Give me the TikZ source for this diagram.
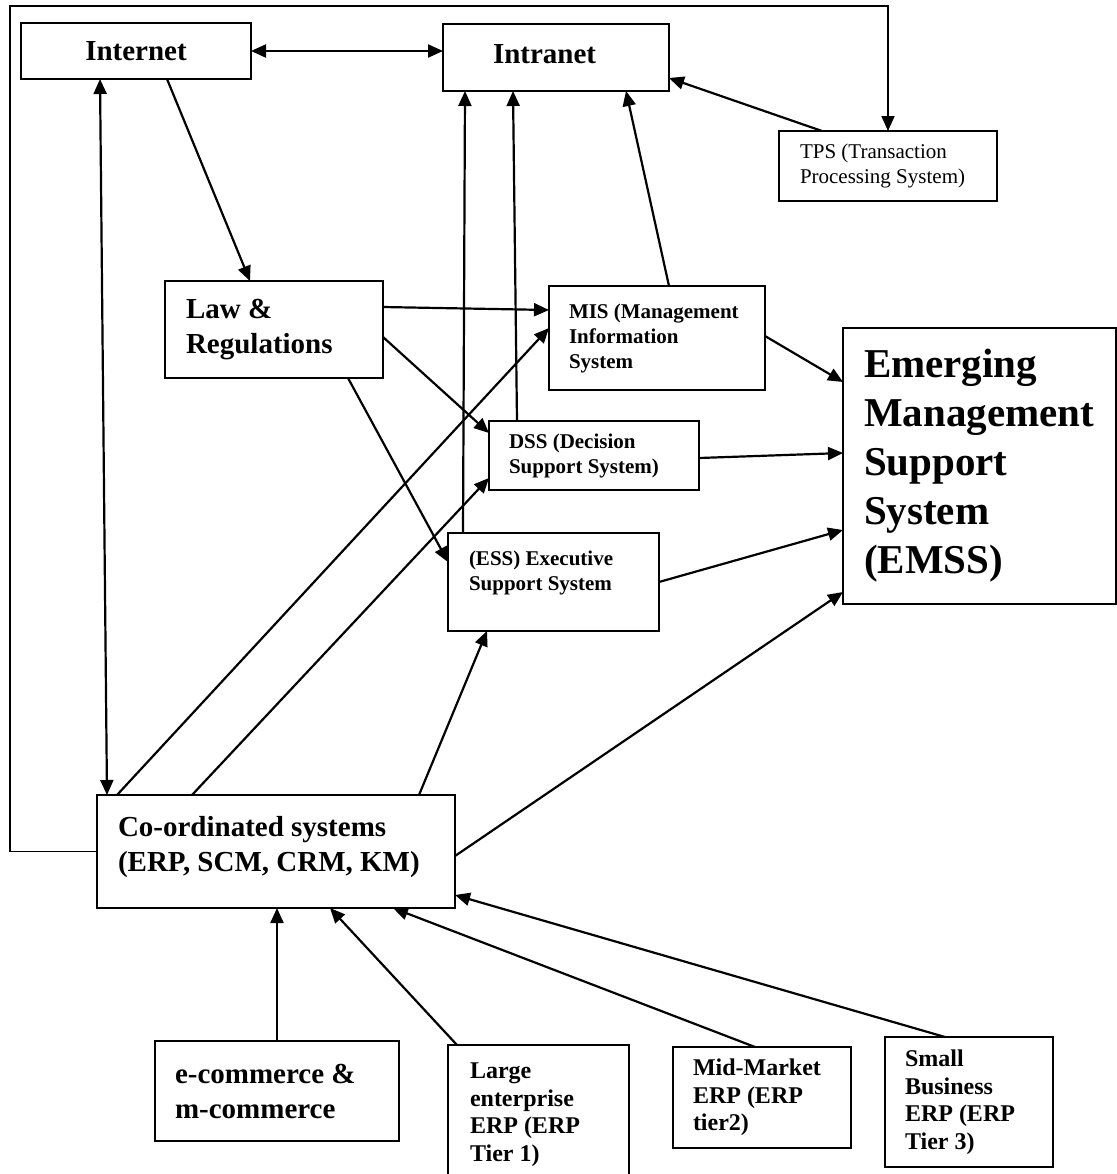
\documentclass[tikz,border=0pt]{standalone}
\usepackage{fontspec}
\setmainfont{Liberation Serif}
\usetikzlibrary{arrows.meta}
\def\botpad#1{\rule[-#1]{0pt}{#1}}

\begin{document}
\begin{tikzpicture}[>={Triangle[length=7.5pt,width=6.5pt]},x=0.5pt,y=-0.5pt,line width=1.1pt,
	box/.style={draw=black,line width=1pt,outer sep=0pt,inner ysep=0pt,anchor=north west,align=flush left},
	bigbold/.style={font=\bfseries\fontsize{14.5}{17.5}\selectfont},
	midbold/.style={font=\bfseries\fontsize{12}{13.75}\selectfont},
	smallbold/.style={font=\bfseries\fontsize{10.5}{12.5}\selectfont},
	hugebold/.style={font=\bfseries\fontsize{20.5}{24.5}\selectfont}]
	\useasboundingbox (0,0) rectangle (1117,1174);

	\node [box,bigbold,align=center,minimum width=115pt,minimum height=28pt,inner xsep=10pt,text width=95pt] at (21,23) (inet) {Internet};
	\node [box,bigbold,minimum width=113pt,minimum height=33.5pt,inner xsep=25pt,text width=63pt] at (443,24) (intra) {Intranet\botpad{4pt}};
	\node [box,font=\fontsize{10.5}{12.5}\selectfont,minimum width=109pt,minimum height=35pt,inner xsep=10.5pt,text width=88pt] at (779,131) (tps) {TPS (Transaction\\Processing System)};
	\node [box,bigbold,minimum width=109pt,minimum height=48.5pt,inner xsep=10.5pt,text width=88pt] at (165,281) (law) {Law \&\\Regulations};
	\node [box,smallbold,minimum width=108pt,minimum height=52pt,inner xsep=10pt,text width=88pt] at (549,286) (mis) {MIS (Management\\Information\\System};
	\node [box,smallbold,minimum width=105pt,minimum height=34.5pt,inner xsep=10pt,text width=85pt] at (489,421) (dss) {DSS (Decision\\Support System)};
	\node [box,smallbold,minimum width=105.5pt,minimum height=49pt,inner xsep=10.5pt,text width=84.5pt] at (448,533) (ess) {(ESS) Executive\\Support System\botpad{11pt}};
	\node [box,hugebold,minimum width=136.5pt,minimum height=138pt,inner xsep=10.5pt,text width=115.5pt] at (843,328) (emss) {Emerging\\Management\\Support\\System\\(EMSS)};
	\node [box,bigbold,minimum width=179pt,minimum height=56.5pt,inner xsep=10.5pt,text width=158pt] at (97,795) (coord) {Co-ordinated systems\\(ERP, SCM, CRM, KM)\botpad{8pt}};
	\node [box,bigbold,minimum width=122pt,minimum height=50pt,inner xsep=10pt,text width=102pt] at (155,1041) (ecom) {e-commerce \&\\m-commerce};
	\node [box,midbold,minimum width=90.5pt,minimum height=80pt,inner xsep=11pt,text width=68.5pt] at (448,1045) (large) {Large\\enterprise\\ERP (ERP\\Tier 1)\botpad{13pt}};
	\node [box,midbold,minimum width=89pt,minimum height=50.5pt,inner xsep=10pt,text width=69pt] at (673,1047) (mid) {Mid-Market\\ERP (ERP\\tier2)};
	\node [box,midbold,minimum width=84pt,minimum height=65pt,inner xsep=10pt,text width=64pt] at (885,1037) (small) {Small\\Business\\ERP (ERP\\Tier 3)};

	\coordinate (corner) at (10,6);

	\draw [<->] (inet.east) -- (inet.east -| intra.west);
	\draw [<->] ([xshift=39.5pt]inet.south west) -- ([xshift=5pt]coord.north west);
	\draw [->] ([xshift=73pt]inet.south west) -- ([xshift=42.5pt]law.north west);
	\draw [->] ([xshift=7.5pt]ess.north west) -- ([xshift=11pt]intra.south west);
	\draw [->] ([xshift=14pt]dss.north west) -- ([xshift=35pt]intra.south west);
	\draw [->] ([xshift=60pt]mis.north west) -- ([xshift=91.5pt]intra.south west);
	\draw [->] ([xshift=21.5pt]tps.north west) -- ([yshift=6.5pt]intra.south east);
	\draw [->,line width=0.9pt] (coord.west) -| (corner) -| ([xshift=54.5pt]tps.north west);

	\draw [->] ([yshift=11.25pt]law.east) -- ([yshift=14pt]mis.west);
	\draw [->] ([yshift=-3.75pt]law.east) -- ([yshift=11.25pt]dss.west);
	\draw [->] ([xshift=91.5pt]law.south west) -- ([yshift=10pt]ess.west);
	\draw [->] ([xshift=10pt]coord.north west) -- ([yshift=5pt]mis.west);
	\draw [->] ([xshift=47.5pt]coord.north west) -- ([yshift=-11.25pt]dss.west);
	\draw [->] ([xshift=161pt]coord.north west) -- ([xshift=19.5pt]ess.south west);

	\draw [->] ([yshift=1pt]mis.east) -- ([yshift=-27pt]emss.north west);
	\draw [->] ([yshift=-1.25pt]dss.east) -- ([yshift=6.5pt]emss.west);
	\draw [->] (ess.east) -- ([yshift=-32pt]emss.west);
	\draw [->] ([yshift=-2.25pt]coord.east) -- ([yshift=6pt]emss.south west);

	\draw [->] (ecom.north) -- (ecom.north |- coord.south);
	\draw [->] ([xshift=4.5pt]large.north west) -- ([xshift=116.5pt]coord.south west);
	\draw [->] ([xshift=41pt]mid.north west) -- ([xshift=-31pt]coord.south east);
	\draw [->] ([xshift=30pt]small.north west) -- ([yshift=6.5pt]coord.south east);
\end{tikzpicture}
\end{document}
